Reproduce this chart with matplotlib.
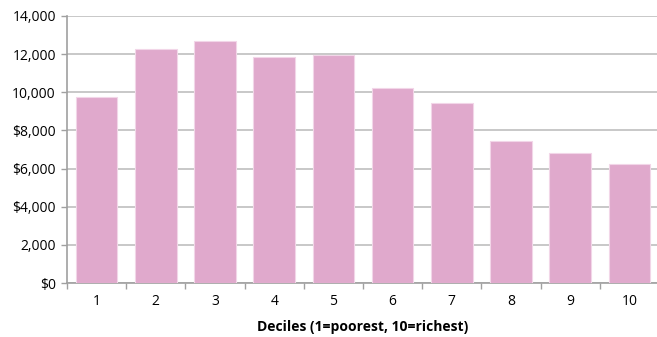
import matplotlib
matplotlib.use("Agg")
import matplotlib.pyplot as plt
import numpy as np

categories = ["1", "2", "3", "4", "5", "6", "7", "8", "9", "10"]
values = [9750, 12250, 12700, 11850, 11950, 10200, 9450, 7450, 6800, 6250]
ytick_vals = [0, 2000, 4000, 6000, 8000, 10000, 12000, 14000]
ytick_labels = ["$0", "2,000", "$4,000", "$6,000", "$8,000", "10,000", "12,000", "14,000"]
xlabel = "Deciles (1=poorest, 10=richest)"

plt.rcParams['font.family'] = ['Open Sans', 'DejaVu Sans']

fig = plt.figure(figsize=(6.57, 3.37), dpi=100)
ax = fig.add_axes([0.102, 0.160, 0.901, 0.793])

x = np.arange(1, len(categories) + 1)
ax.bar(x, values, width=0.70, color="#E0A9CC", edgecolor="#F2D6E8", linewidth=0.8, zorder=3)

ax.set_xlim(0.5, len(categories) + 0.5)
ax.set_ylim(0, 14000)
ax.set_yticks(ytick_vals)
ax.set_yticklabels(ytick_labels, fontsize=10)
ax.set_xticks(x)
ax.set_xticklabels(categories, fontsize=10)
ax.set_xticks(np.arange(0.5, len(categories) + 1, 1), minor=True)
ax.tick_params(axis='x', which='major', length=0, pad=8)
ax.tick_params(axis='x', which='minor', length=4, color="#A0A0A0", width=1)
ax.tick_params(axis='y', length=4, color="#A0A0A0", width=1, pad=4)

ax.yaxis.grid(True, color="#BFBFBF", linewidth=1.2, zorder=0)
ax.set_axisbelow(True)
for s in ["top", "right"]:
    ax.spines[s].set_visible(False)
for s in ["left", "bottom"]:
    ax.spines[s].set_color("#A0A0A0")
    ax.spines[s].set_linewidth(1.2)

ax.set_xlabel(xlabel, fontsize=10, fontweight='bold', labelpad=8)

fig.savefig("out.png", dpi=100)
